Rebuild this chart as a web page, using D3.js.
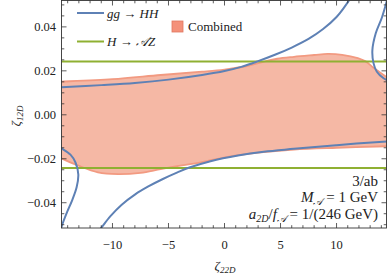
<!DOCTYPE html>
<html>
<head>
<meta charset="utf-8">
<script src="https://cdn.jsdelivr.net/npm/d3@7"></script>
<style>
  body { margin: 0; background: #fff; }
  text { font-family: "Liberation Serif", "DejaVu Serif", serif; fill: #222; }
</style>
</head>
<body>
<script>
// ---- data ----
var xTicks = [-10, -5, 0, 5, 10]
var yTicks = [-0.04, -0.02, 0, 0.02, 0.04]
var yTickLabels = ["\u22120.04", "\u22120.02", "0.00", "0.02", "0.04"]
var xTickLabels = ["\u221210", "\u22125", "0", "5", "10"]

// gg -> HH contour, four branches
var hhUpperLeft = [[-15, 0.0124], [-14.55, 0.0125], [-11, 0.0135], [-8, 0.0145], [-5, 0.016], [-2, 0.0181], [0, 0.0199],
  [1.5, 0.0218], [3, 0.0244], [4.5, 0.0273], [6, 0.0306], [7.5, 0.0345], [8.8, 0.039], [10, 0.0445], [10.7, 0.049], [11.3, 0.0535]]
var hhUpperRight = [[14.7, 0.056], [14.5, 0.052], [14.06, 0.0444], [13.5, 0.0371], [13.2, 0.0294], [13.3, 0.0235],
  [13.6, 0.0196], [14.2, 0.0166], [14.8, 0.015]]
var hhLowerRight = [[-11.4, -0.0535], [-11.1, -0.052], [-10.2, -0.0462], [-9.2, -0.041], [-8, -0.0363], [-6.8, -0.0326],
  [-5.5, -0.0292], [-4.2, -0.0262], [-3.2, -0.0241], [-1.25, -0.0211], [1.2, -0.0185], [3.5, -0.0168], [6.2, -0.0155],
  [10, -0.0138], [14.5, -0.0121], [15, -0.012]]
var hhLowerLeft = [[-15, -0.0138], [-14.6, -0.0151], [-13.75, -0.0181], [-13.3, -0.0217], [-13.05, -0.0271], [-13.2, -0.033],
  [-13.6, -0.0389], [-14.1, -0.0448], [-14.5, -0.0502], [-14.7, -0.054]]

// H -> AZ bounds
var azLevels = [0.0243, -0.0242]

// combined allowed region
var combinedUpper = [[-15, 0.015], [-14.55, 0.0151], [-10, 0.0162], [-5.7, 0.0181], [-2, 0.0196], [0, 0.0206], [2, 0.0222],
  [3.2, 0.0237], [4.7, 0.0255], [6.2, 0.0264], [8, 0.0272], [9.2, 0.0277], [10.5, 0.0273], [11.9, 0.0258], [12.6, 0.0243],
  [13.3, 0.0214], [14.46, 0.0172], [15, 0.015]]
var combinedLower = [[-15, -0.0185], [-14.55, -0.0198], [-13.1, -0.023], [-11.3, -0.0262], [-9.5, -0.027], [-7.5, -0.0264],
  [-5.7, -0.0247], [-3.8, -0.023], [-2, -0.0215], [0.3, -0.0191], [3, -0.0172], [6.2, -0.0158], [10, -0.015], [14.46, -0.0143], [15, -0.0142]]

var W = 390
var H = 278
var pL = 61.5, pR = 386.5, pT = 0.5, pB = 228

var blue = "#5e81b5"
var green = "#8fb032"
var pinkFill = "#f5b8a5"
var pinkEdge = "#f29a81"

var x = d3.scaleLinear().domain([-14.55, 14.46]).range([pL, pR])
var y = d3.scaleLinear().domain([-0.0515, 0.052]).range([pB, pT])

var svg = d3.select('body').append('svg').attr('width', W).attr('height', H)

svg.append('clipPath').attr('id', 'plotclip').append('rect')
  .attr('x', pL).attr('y', pT).attr('width', pR - pL).attr('height', pB - pT)

var plot = svg.append('g').attr('clip-path', 'url(#plotclip)')

var line = d3.line().x(d => x(d[0])).y(d => y(d[1])).curve(d3.curveCatmullRom.alpha(0.5))

// combined region: upper edge then lower edge reversed
var upPath = line(combinedUpper)
var lowPath = line(combinedLower.slice().reverse())
plot.append('path').attr('d', upPath + lowPath.replace(/^M/, 'L') + 'Z')
  .attr('fill', pinkFill).attr('stroke', 'none')
plot.append('path').attr('d', upPath).attr('fill', 'none').attr('stroke', pinkEdge).attr('stroke-width', 1.8)
plot.append('path').attr('d', line(combinedLower)).attr('fill', 'none').attr('stroke', pinkEdge).attr('stroke-width', 1.8)

// H -> AZ lines
plot.selectAll('line.az').data(azLevels).enter().append('line')
  .attr('x1', pL).attr('x2', pR)
  .attr('y1', d => y(d)).attr('y2', d => y(d))
  .attr('stroke', green).attr('stroke-width', 2)

// gg -> HH
plot.selectAll('path.hh').data([hhUpperLeft, hhUpperRight, hhLowerRight, hhLowerLeft]).enter().append('path')
  .attr('d', d => line(d)).attr('fill', 'none').attr('stroke', blue).attr('stroke-width', 2)

// frame + ticks
var frame = svg.append('g')
frame.append('rect').attr('x', pL).attr('y', pT).attr('width', pR - pL).attr('height', pB - pT)
  .attr('fill', 'none').attr('stroke', '#333').attr('stroke-width', 0.9)

var xMinor = d3.range(-14, 15, 1).filter(v => v % 5 != 0)
var yMinor = d3.range(-50, 51, 5).filter(v => v % 20 != 0).map(v => v / 1000)

function tickX(vals, len) {
  vals.forEach(v => {
    frame.append('line').attr('x1', x(v)).attr('x2', x(v)).attr('y1', pB).attr('y2', pB - len).attr('stroke', '#333').attr('stroke-width', 0.8)
    frame.append('line').attr('x1', x(v)).attr('x2', x(v)).attr('y1', pT).attr('y2', pT + len).attr('stroke', '#333').attr('stroke-width', 0.8)
  })
}
function tickY(vals, len) {
  vals.forEach(v => {
    frame.append('line').attr('y1', y(v)).attr('y2', y(v)).attr('x1', pL).attr('x2', pL + len).attr('stroke', '#333').attr('stroke-width', 0.8)
    frame.append('line').attr('y1', y(v)).attr('y2', y(v)).attr('x1', pR).attr('x2', pR - len).attr('stroke', '#333').attr('stroke-width', 0.8)
  })
}
tickX(xTicks, 5)
tickX(xMinor, 2.8)
tickY(yTicks, 5)
tickY(yMinor, 2.8)

svg.selectAll('text.xt').data(xTicks).enter().append('text')
  .attr('x', d => x(d)).attr('y', 248.5).attr('text-anchor', 'middle').attr('font-size', 12.5)
  .text((d, i) => xTickLabels[i])
svg.selectAll('text.yt').data(yTicks).enter().append('text')
  .attr('x', 56).attr('y', d => y(d) + 4.2).attr('text-anchor', 'end').attr('font-size', 12.5)
  .text((d, i) => yTickLabels[i])

// axis titles
var xt = svg.append('text').attr('x', 225).attr('y', 270).attr('text-anchor', 'middle').attr('font-size', 13)
xt.append('tspan').attr('font-style', 'italic').text('\u03b6')
xt.append('tspan').attr('font-style', 'italic').attr('font-size', 9).attr('dy', 3).text('22D')

var ytl = svg.append('text').attr('transform', 'translate(20,116) rotate(-90)').attr('text-anchor', 'middle').attr('font-size', 13)
ytl.append('tspan').attr('font-style', 'italic').text('\u03b6')
ytl.append('tspan').attr('font-style', 'italic').attr('font-size', 9).attr('dy', 3).text('12D')

// legend
var lg = svg.append('g')
lg.append('line').attr('x1', 77).attr('x2', 104).attr('y1', 13).attr('y2', 13).attr('stroke', blue).attr('stroke-width', 2)
lg.append('line').attr('x1', 77).attr('x2', 104).attr('y1', 41.5).attr('y2', 41.5).attr('stroke', green).attr('stroke-width', 2)
var l1 = lg.append('text').attr('x', 107).attr('y', 17.5).attr('font-size', 13)
l1.append('tspan').attr('font-style', 'italic').text('gg')
l1.append('tspan').text(' \u2192 ')
l1.append('tspan').attr('font-style', 'italic').text('HH')
var l2 = lg.append('text').attr('x', 107).attr('y', 46).attr('font-size', 13)
l2.append('tspan').attr('font-style', 'italic').text('H')
l2.append('tspan').text(' \u2192 ')
l2.append('tspan').attr('font-style', 'italic').text('\ud835\udc9cZ')
lg.append('rect').attr('x', 172).attr('y', 21).attr('width', 11).attr('height', 11)
  .attr('fill', '#f4917a').attr('stroke', '#e0775f').attr('stroke-width', 0.8)
lg.append('text').attr('x', 188).attr('y', 31).attr('font-size', 13).text('Combined')

// annotation
var an = svg.append('g').attr('text-anchor', 'end')
an.append('text').attr('x', 378).attr('y', 186).attr('font-size', 15).text('3/ab')
var a2 = an.append('text').attr('x', 378).attr('y', 201.5).attr('font-size', 15)
a2.append('tspan').attr('font-style', 'italic').text('M')
a2.append('tspan').attr('font-style', 'italic').attr('font-size', 10).attr('dy', 3).text('\ud835\udc9c')
a2.append('tspan').attr('dy', -3).text(' = 1 GeV')
var a3 = an.append('text').attr('x', 378).attr('y', 219).attr('font-size', 15)
a3.append('tspan').attr('font-style', 'italic').text('a')
a3.append('tspan').attr('font-style', 'italic').attr('font-size', 10).attr('dy', 3).text('2D')
a3.append('tspan').attr('dy', -3).text('/')
a3.append('tspan').attr('font-style', 'italic').text('f')
a3.append('tspan').attr('font-style', 'italic').attr('font-size', 10).attr('dy', 3).text('\ud835\udc9c')
a3.append('tspan').attr('dy', -3).text(' = 1/(246 GeV)')
</script>
</body>
</html>
